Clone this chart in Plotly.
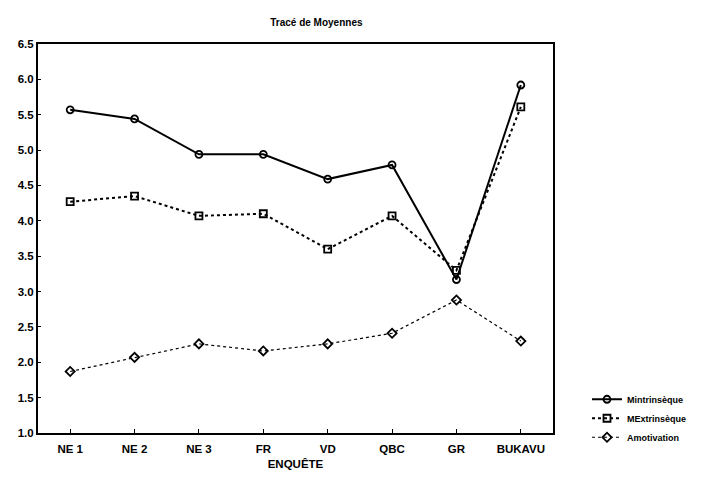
import plotly.graph_objects as go

categories = ["NE 1", "NE 2", "NE 3", "FR", "VD", "QBC", "GR", "BUKAVU"]
mintrinseque = [5.57, 5.44, 4.94, 4.94, 4.59, 4.79, 3.17, 5.92]
mextrinseque = [4.27, 4.35, 4.07, 4.10, 3.60, 4.07, 3.30, 5.61]
amotivation = [1.87, 2.07, 2.26, 2.16, 2.26, 2.41, 2.88, 2.30]

font = "Liberation Sans"

fig = go.Figure()
fig.add_trace(go.Scatter(
    x=categories, y=mintrinseque, name="<b>Mintrinsèque</b>", mode="lines+markers",
    line=dict(color="black", width=2, dash="solid"),
    marker=dict(symbol="circle-open", size=7, color="black", line=dict(width=1.8))))
fig.add_trace(go.Scatter(
    x=categories, y=mextrinseque, name="<b>MExtrinsèque</b>", mode="lines+markers",
    line=dict(color="black", width=2, dash="dot"),
    marker=dict(symbol="square-open", size=7, color="black", line=dict(width=1.8))))
fig.add_trace(go.Scatter(
    x=categories, y=amotivation, name="<b>Amotivation</b>", mode="lines+markers",
    line=dict(color="black", width=1.2, dash="dot"),
    marker=dict(symbol="diamond-open", size=7, color="black", line=dict(width=1.8))))

fig.update_layout(
    width=693, height=474,
    margin=dict(l=30, r=148, t=36, b=49, autoexpand=False),
    paper_bgcolor="white", plot_bgcolor="white",
    font=dict(family=font, color="black", size=11),
    title=dict(text="<b>Tracé de Moyennes</b>", x=0.445, xanchor="center",
               y=0.97, yanchor="middle", font=dict(size=10)),
    showlegend=True,
    legend=dict(x=1.066, y=0.124, xanchor="left", yanchor="top",
                font=dict(size=9), tracegroupgap=0, itemwidth=30,
                bgcolor="rgba(0,0,0,0)"),
)
fig.update_xaxes(
    range=[-0.5, 7.5], showline=True, linecolor="black", linewidth=2, mirror=True,
    ticks="inside", ticklen=4, tickcolor="black", showgrid=False,
    tickfont=dict(size=11.5, family=font), ticklabelstandoff=4,
    title=dict(text="<b>ENQUÊTE</b>", font=dict(size=11.5), standoff=6),
)
fig.update_yaxes(
    range=[1.0, 6.5], dtick=0.5, tickformat=".1f", showline=True, linecolor="black",
    linewidth=2, mirror=True, ticks="inside", ticklen=3, tickcolor="black",
    showgrid=False, zeroline=False, tickfont=dict(size=11.5, family=font),
)
fig.for_each_xaxis(lambda a: a.update(tickvals=categories,
                                      ticktext=["<b>" + c + "</b>" for c in categories]))
fig.for_each_yaxis(lambda a: a.update(
    tickvals=[1.0 + 0.5 * i for i in range(12)],
    ticktext=["<b>%.1f</b>" % (1.0 + 0.5 * i) for i in range(12)]))
fig.write_html("out.html")
